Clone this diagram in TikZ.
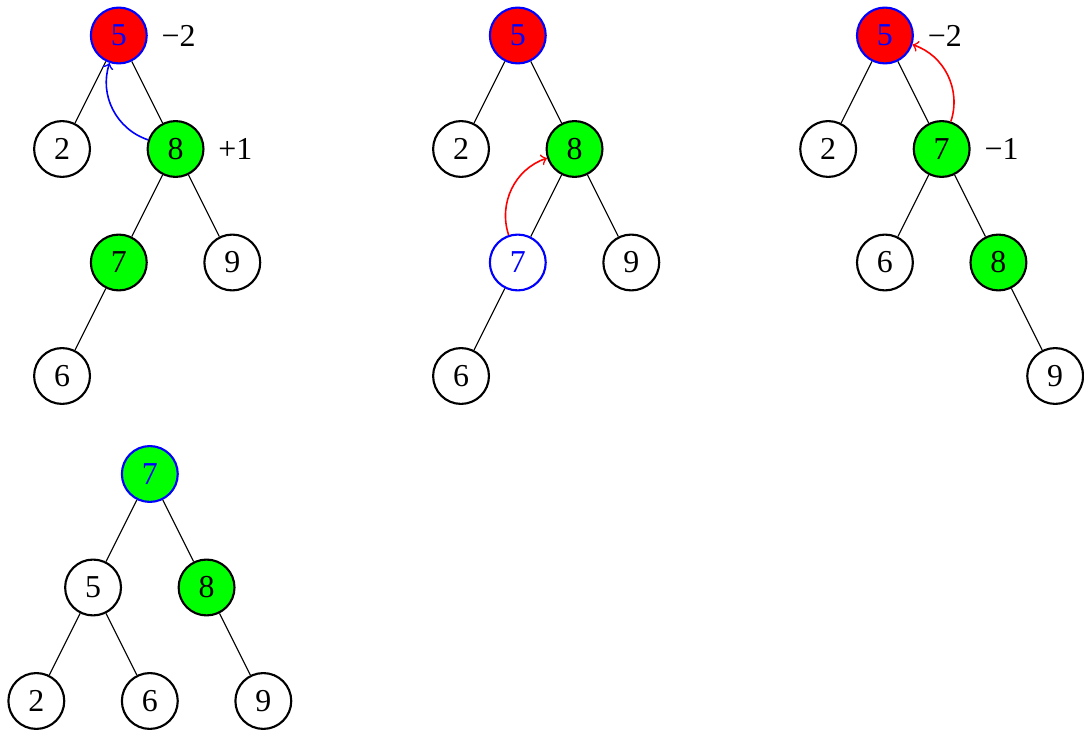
\documentclass[tikz,border=0pt,12pt]{standalone}
\usepackage{fontspec}
\setmainfont{Liberation Serif}

\def\levsep{1.5}
\def\sibsep{0.75}

\begin{document}
\begin{tikzpicture}[label distance=1pt]
    \tikzstyle{every label}=[text=black]
    \tikzstyle{key}=[circle,draw,thick,minimum size=21pt,inner sep=0pt]
    \tikzstyle{marked key}=[key, draw=blue, text=blue];
    \tikzstyle{rot}=[->,semithick];
    \useasboundingbox (0,0) rectangle (14.326,-9.660);
    % first tree: 5 is out of balance
    \begin{scope}[xshift=1.570cm,yshift=-0.469cm]
      \node[marked key, fill=red, label=right:−2] (A5) at (0,0) {5};
      \node[key] (A2) at (-\sibsep,-\levsep) {2};
      \node[key, fill=green, label=right:+1] (A8) at (\sibsep,-\levsep) {8};
      \node[key, fill=green] (A7) at (0,-2*\levsep) {7};
      \node[key] (A9) at (2*\sibsep,-2*\levsep) {9};
      \node[key] (A6) at (-\sibsep,-3*\levsep) {6};
      \path (A5) edge (A2) edge (A8);
      \path (A8) edge (A7) edge (A9);
      \path (A7) edge (A6);
      \path (A8) edge [rot, blue, bend left=45] (A5);
    \end{scope}
    % second tree: right rotation at 8
    \begin{scope}[xshift=6.843cm,yshift=-0.469cm]
      \node[marked key, fill=red] (B5) at (0,0) {5};
      \node[key] (B2) at (-\sibsep,-\levsep) {2};
      \node[key, fill=green] (B8) at (\sibsep,-\levsep) {8};
      \node[marked key] (B7) at (0,-2*\levsep) {7};
      \node[key] (B9) at (2*\sibsep,-2*\levsep) {9};
      \node[key] (B6) at (-\sibsep,-3*\levsep) {6};
      \path (B5) edge (B2) edge (B8);
      \path (B8) edge (B7) edge (B9);
      \path (B7) edge (B6);
      \path (B7) edge [rot, red, bend left=45] (B8);
    \end{scope}
    % third tree: left rotation at 5
    \begin{scope}[xshift=11.695cm,yshift=-0.469cm]
      \node[marked key, fill=red, label=right:−2] (C5) at (0,0) {5};
      \node[key] (C2) at (-\sibsep,-\levsep) {2};
      \node[key, fill=green, label=right:−1] (C7) at (\sibsep,-\levsep) {7};
      \node[key] (C6) at (0,-2*\levsep) {6};
      \node[key, fill=green] (C8) at (2*\sibsep,-2*\levsep) {8};
      \node[key] (C9) at (3*\sibsep,-3*\levsep) {9};
      \path (C5) edge (C2) edge (C7);
      \path (C7) edge (C6) edge (C8);
      \path (C8) edge (C9);
      \path (C7) edge [rot, red, bend right=45] (C5);
    \end{scope}
    % result
    \begin{scope}[xshift=1.980cm,yshift=-6.264cm]
      \node[marked key, fill=green] (D7) at (0,0) {7};
      \node[key] (D5) at (-\sibsep,-\levsep) {5};
      \node[key, fill=green] (D8) at (\sibsep,-\levsep) {8};
      \node[key] (D2) at (-2*\sibsep,-2*\levsep) {2};
      \node[key] (D6) at (0,-2*\levsep) {6};
      \node[key] (D9) at (2*\sibsep,-2*\levsep) {9};
      \path (D7) edge (D5) edge (D8);
      \path (D5) edge (D2) edge (D6);
      \path (D8) edge (D9);
    \end{scope}
\end{tikzpicture}
\end{document}
